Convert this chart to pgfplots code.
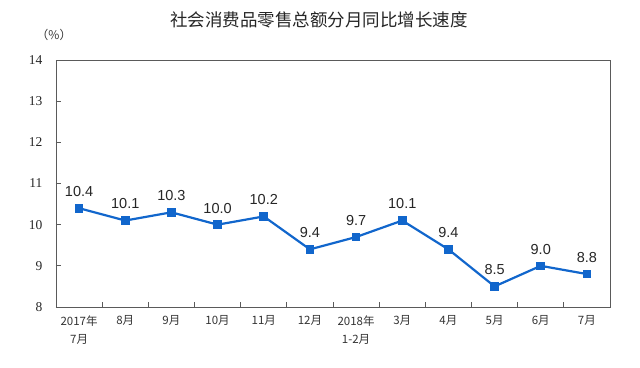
\documentclass[border=0pt]{standalone}
\usepackage{fontspec}
\usepackage{pgfplots}
\pgfplotsset{compat=1.18}
\setmainfont{Liberation Sans}
\newfontfamily\cjk{Noto Sans CJK SC}
\newfontfamily\serifnum{Liberation Serif}
\definecolor{lineblue}{RGB}{17,102,204}
\definecolor{axgray}{RGB}{90,90,90}
\begin{document}
\begin{tikzpicture}[x=1pt,y=1pt]
\path[use as bounding box] (-56,-60) rectangle (584,307);
\begin{axis}[
  at={(0,0)}, anchor=south west,
  scale only axis, width=554pt, height=247pt,
  xmin=-0.5, xmax=11.5, ymin=8, ymax=14,
  xtick={0,...,11},
  xticklabels={{2017年\\7月},8月,9月,10月,11月,12月,{2018年\\1-2月},3月,4月,5月,6月,7月},
  minor xtick={0.5,1.5,...,11.5},
  major x tick style={draw=none},
  ytick={8,...,14},
  yticklabels={8,9,10,11,12,13,14},
  tick pos=left,
  tick align=inside,
  major tick length=5pt, minor tick length=5pt,
  every tick/.style={axgray, line width=0.8pt},
  axis line style={axgray, line width=0.9pt},
  xticklabel style={align=center, font=\cjk\fontsize{11.5}{18}\selectfont, text=black!80, yshift=-5pt},
  yticklabel style={font=\serifnum\fontsize{13.5}{15}\selectfont, text=black!85, xshift=-10pt},
  clip=false,
]
\addplot[lineblue, line width=2.2pt, mark=square*, mark size=3.2pt,
  nodes near coords, point meta=explicit symbolic,
  every node near coord/.append style={font=\fontsize{14.5}{16}\selectfont, text=black!85, anchor=south, yshift=7pt}]
  table[meta=label] {
x y label
0 10.4 10.4
1 10.1 10.1
2 10.3 10.3
3 10.0 10.0
4 10.2 10.2
5 9.4 9.4
6 9.7 9.7
7 10.1 10.1
8 9.4 9.4
9 8.5 8.5
10 9.0 9.0
11 8.8 8.8
};
\end{axis}
\node[font=\cjk\fontsize{17.5}{19}\selectfont, text=black!85] at (263,287) {社会消费品零售总额分月同比增长速度};
\node[font=\cjk\fontsize{12}{14}\selectfont, text=black!80] at (-2,272) {（\%）};
\end{tikzpicture}
\end{document}
